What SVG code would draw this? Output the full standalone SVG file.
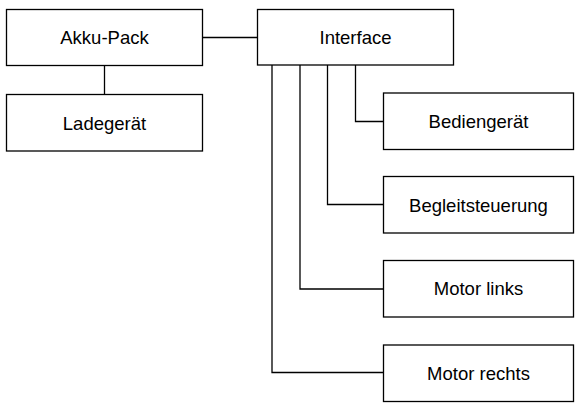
<svg xmlns="http://www.w3.org/2000/svg" width="575" height="403" viewBox="0 0 575 403">
<style>
.box{fill:#fff;stroke:#000;stroke-width:1.3}
.lbl{font-family:"Liberation Sans",Arial,sans-serif;font-size:18.5px;fill:#000;text-anchor:middle}
.con{fill:none;stroke:#000;stroke-width:1.3}
</style>
<rect width="575" height="403" fill="#fff"/>
<g id="connectors">
<path class="con" d="M104.5 66V94"/>
<path class="con" d="M202 37.5H257"/>
<path class="con" d="M355.5 65V121.5H383"/>
<path class="con" d="M327.5 65V204.5H383"/>
<path class="con" d="M300 65V289H383"/>
<path class="con" d="M272 65V372.5H383"/>
</g>
<g id="akku-pack"><rect class="box" x="6.5" y="9.5" width="196" height="56"/><text class="lbl" x="104.5" y="43.5">Akku-Pack</text></g>
<g id="ladegeraet"><rect class="box" x="6.5" y="94.5" width="196" height="56.5"/><text class="lbl" x="104.5" y="129.5">Ladegerät</text></g>
<g id="interface"><rect class="box" x="257.5" y="9.5" width="196" height="55.5"/><text class="lbl" x="355.5" y="43.5">Interface</text></g>
<g id="bediengeraet"><rect class="box" x="383.5" y="93" width="190" height="56.5"/><text class="lbl" x="478.5" y="128">Bediengerät</text></g>
<g id="begleitsteuerung"><rect class="box" x="383.5" y="176.5" width="190" height="56.5"/><text class="lbl" x="478.5" y="211.5">Begleitsteuerung</text></g>
<g id="motor-links"><rect class="box" x="383.5" y="260.5" width="190" height="56.5"/><text class="lbl" x="478.5" y="294.5">Motor links</text></g>
<g id="motor-rechts"><rect class="box" x="383.5" y="345" width="190" height="56.5"/><text class="lbl" x="478.5" y="380">Motor rechts</text></g>
</svg>
